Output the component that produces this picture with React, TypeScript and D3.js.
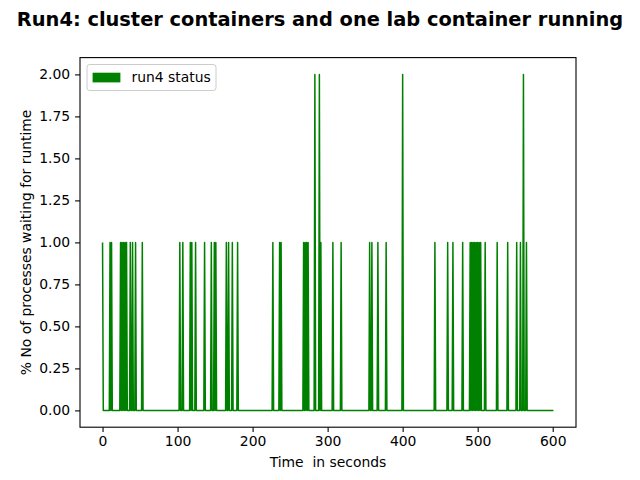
import React, { useEffect, useRef } from "react";
import * as d3 from "d3";

// seconds at which the status jumps to 1 (single-sample pulses)
const spikesOne = [
  0, 10, 12, 24, 26, 28, 30, 32, 37, 40, 44, 53,
  103, 107, 117, 119, 124, 136, 145, 149, 151, 165, 168, 173, 180,
  227, 236, 238, 268, 270, 272, 274, 291, 307, 318,
  356, 359, 367, 378,
  443, 460, 467, 480, 490, 492, 494, 496, 498, 500, 502, 504, 510, 526, 540,
  552, 557, 565,
];
// seconds at which the status reaches 2
const spikesTwo = [283, 289, 400, 561];
const lastSecond = 601;

const xTicks = [0, 100, 200, 300, 400, 500, 600];
const yTicks = [0, 0.25, 0.5, 0.75, 1, 1.25, 1.5, 1.75, 2];

const title = "Run4: cluster containers and one lab container running";
const xLabel = "Time  in seconds";
const yLabel = "% No of processes waiting for runtime";
const legendLabel = "run4 status";

export default function App() {
  const ref = useRef<SVGSVGElement>(null);

  useEffect(() => {
    const width = 640, height = 480;
    const margin = { left: 80, right: 576, top: 57.6, bottom: 427.2 };
    const font = "'DejaVu Sans', sans-serif";
    const fs = 13.9;

    // status sampled once a second, zero unless a spike was read
    const data: { t: number; v: number }[] = [];
    for (let t = 0; t <= lastSecond; t++) {
      let v = 0;
      if (spikesOne.includes(t)) v = 1;
      if (spikesTwo.includes(t)) v = 2;
      data.push({ t, v });
    }

    const svg = d3.select(ref.current);
    svg.selectAll("*").remove();

    const x = d3.scaleLinear()
      .domain([-0.05 * lastSecond, 1.05 * lastSecond])
      .range([margin.left, margin.right]);
    const y = d3.scaleLinear()
      .domain([-0.1, 2.1])
      .range([margin.bottom, margin.top]);

    svg.append("rect").attr("width", width).attr("height", height).attr("fill", "#fff");

    const line = d3.line<{ t: number; v: number }>()
      .x(d => x(d.t))
      .y(d => y(d.v));

    svg.append("path")
      .datum(data)
      .attr("fill", "none")
      .attr("stroke", "#008000")
      .attr("stroke-width", 1.5)
      .attr("stroke-linejoin", "round")
      .attr("d", line as any);

    // axes
    const xAxis = svg.append("g")
      .attr("transform", `translate(0,${margin.bottom})`)
      .call(d3.axisBottom(x).tickValues(xTicks).tickFormat(d3.format("d")).tickSize(4.9).tickPadding(4.2).tickSizeOuter(0));
    const yAxis = svg.append("g")
      .attr("transform", `translate(${margin.left},0)`)
      .call(d3.axisLeft(y).tickValues(yTicks).tickFormat(d3.format(".2f")).tickSize(4.9).tickPadding(4.9).tickSizeOuter(0));
    for (const g of [xAxis, yAxis]) {
      g.select(".domain").remove();
      g.selectAll("line").attr("stroke", "#000").attr("stroke-width", 1.1);
      g.selectAll("text").attr("font-family", font).attr("font-size", fs).attr("fill", "#000");
    }

    // frame
    svg.append("rect")
      .attr("x", margin.left).attr("y", margin.top)
      .attr("width", margin.right - margin.left)
      .attr("height", margin.bottom - margin.top)
      .attr("fill", "none").attr("stroke", "#000").attr("stroke-width", 1.1);

    // labels
    svg.append("text")
      .attr("x", (margin.left + margin.right) / 2).attr("y", 467)
      .attr("text-anchor", "middle").attr("font-family", font).attr("font-size", fs)
      .style("white-space", "pre")
      .text(xLabel);
    svg.append("text")
      .attr("transform", `translate(31,${(margin.top + margin.bottom) / 2}) rotate(-90)`)
      .attr("text-anchor", "middle").attr("font-family", font).attr("font-size", fs)
      .text(yLabel);
    svg.append("text")
      .attr("x", width / 2).attr("y", 25.5)
      .attr("text-anchor", "middle").attr("font-family", font).attr("font-size", 19.4)
      .attr("font-weight", "bold")
      .text(title);

    // legend
    const legend = svg.append("g").attr("transform", `translate(87,64.5)`);
    legend.append("rect")
      .attr("width", 129).attr("height", 26).attr("rx", 2.8)
      .attr("fill", "#fff").attr("fill-opacity", 0.8)
      .attr("stroke", "#ccc").attr("stroke-width", 1);
    legend.append("rect")
      .attr("x", 5.6).attr("y", 8.2).attr("width", 27.8).attr("height", 9.7)
      .attr("fill", "#008000");
    legend.append("text")
      .attr("x", 44.5).attr("y", 17.8)
      .attr("font-family", font).attr("font-size", fs)
      .text(legendLabel);
  }, []);

  return (
    <svg ref={ref} width={640} height={480}
      style={{ position: "absolute", left: 0, top: 0, display: "block" }} />
  );
}
